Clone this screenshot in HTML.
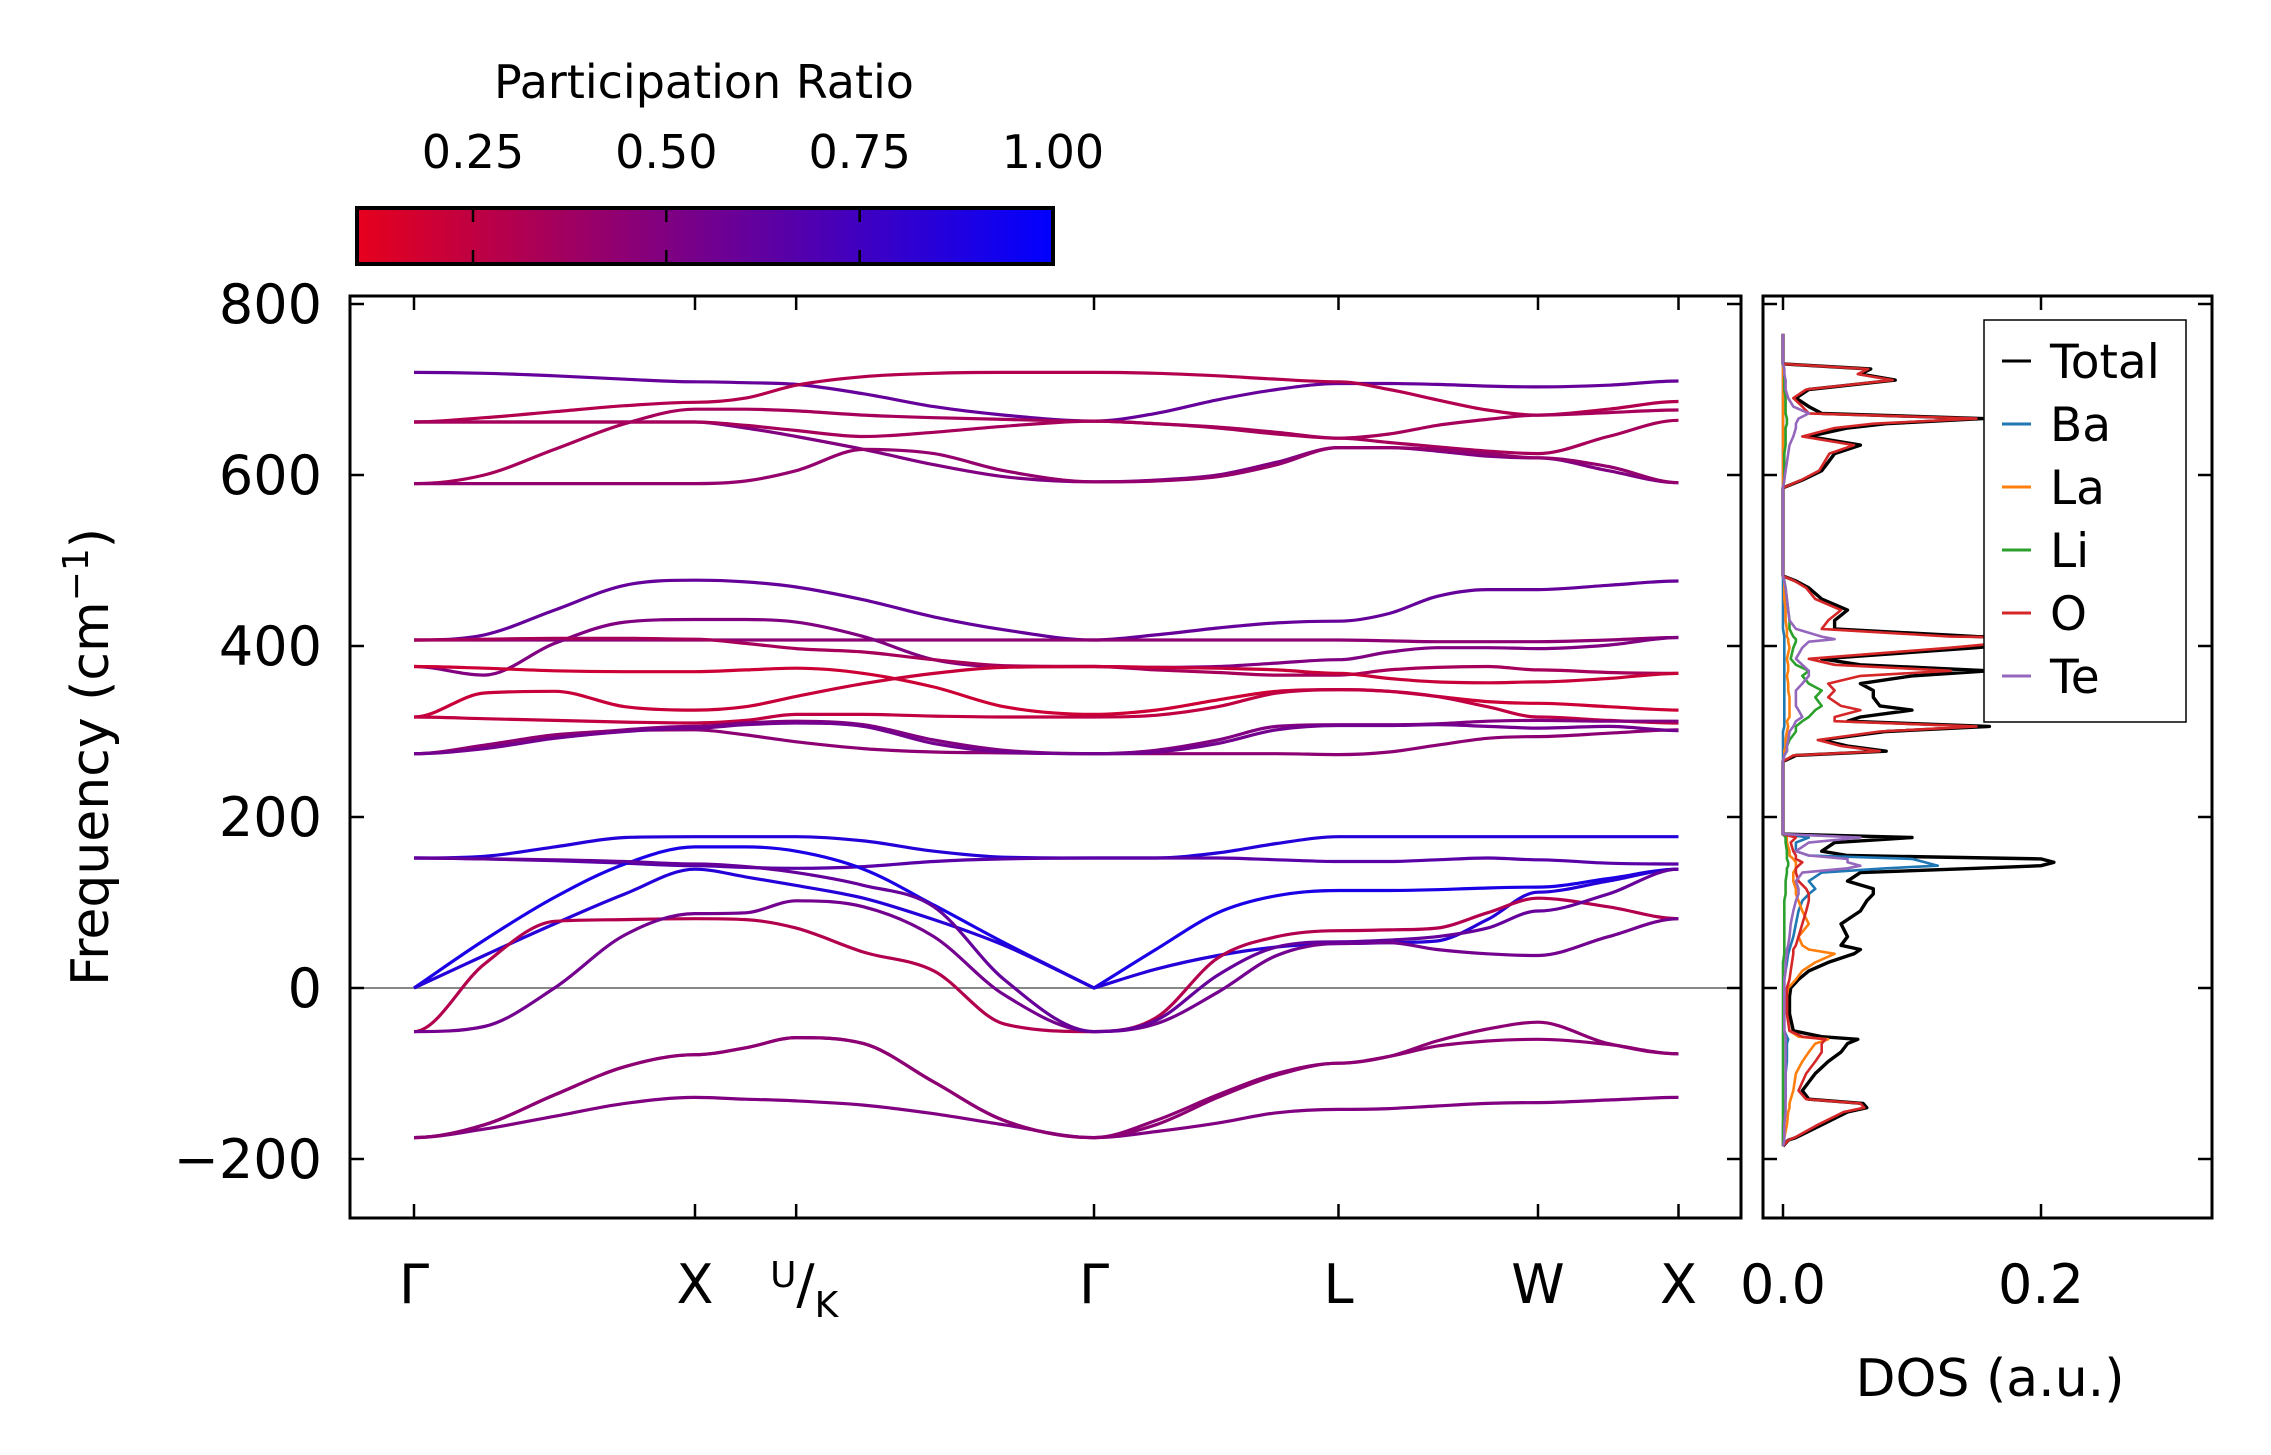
<!DOCTYPE html>
<html><head><meta charset="utf-8">
<style>
html,body{margin:0;padding:0;background:#fff;}
svg{display:block;font-family:"DejaVu Sans","Liberation Sans",sans-serif;}
</style></head>
<body>
<svg id="fig" width="2271" height="1455" viewBox="0 0 2271 1455" xmlns="http://www.w3.org/2000/svg">
<defs>
<linearGradient id="cmap" x1="0" x2="1" y1="0" y2="0">
<stop offset="0" stop-color="rgb(230,0,28)"/>
<stop offset="1" stop-color="rgb(0,0,255)"/>
</linearGradient>
<clipPath id="mainclip"><rect x="350" y="296" width="1391" height="922"/></clipPath>
<clipPath id="dosclip"><rect x="1763" y="296" width="449" height="922"/></clipPath>
</defs>
<g id="colorbar">
<text x="704" y="98" font-size="46" text-anchor="middle">Participation Ratio</text>
<rect x="357" y="208" width="696" height="56" fill="url(#cmap)" stroke="#000" stroke-width="4"/>
<g id="cbticks"></g>
</g>
<g id="main">
<line x1="350" x2="1741" y1="988" y2="988" stroke="#888" stroke-width="2"/>
<g id="bands" clip-path="url(#mainclip)"></g>
<rect x="350" y="296" width="1391" height="922" fill="none" stroke="#000" stroke-width="3"/>
<g id="mainticks"></g>
<text transform="translate(108,757) rotate(-90)" font-size="52" text-anchor="middle">Frequency (cm<tspan dy="-20" font-size="36">−1</tspan><tspan dy="20">)</tspan></text>
</g>
<g id="dos">
<g id="dosLines" clip-path="url(#dosclip)"></g>
<rect x="1763" y="296" width="449" height="922" fill="none" stroke="#000" stroke-width="3"/>
<g id="dosticks"></g>
<text x="1990" y="1396" font-size="52" text-anchor="middle">DOS (a.u.)</text>
<g id="legend">
<rect x="1984" y="320" width="202" height="402" fill="#fff" stroke="#000" stroke-width="1.5"/>
</g>
</g>
</svg>
<script>
// ---- band structure data ----
const kLabels = ["Γ","X","U/K","Γ","L","W","X"];
const kLabelPos = [0,1,1.36,2.42,3.29,4.0,4.5];
const kGrid = [0,0.25,0.5,0.75,1,1.18,1.36,1.6,1.85,2.1,2.42,2.64,2.86,3.07,3.29,3.47,3.64,3.82,4.0,4.25,4.5];
const yTicks = [800,600,400,200,0,-200];
const yTickLabels = ["800","600","400","200","0","−200"];
const cbTicks = [0.25,0.5,0.75,1.0];
const cbTickLabels = ["0.25","0.50","0.75","1.00"];
const T1 = [720,719,716,712,709,708,706,695,680,670,663,672,688,700,707,707,706,704,703,705,710];
const T2 = [662,667,674,681,685,690,705,715,719,720,720,719,716,712,709,700,688,676,670,677,686];
const T3 = [590,600,630,660,677,677,675,670,667,665,663,660,655,648,643,648,658,665,670,673,676];
const T4 = [662,662,662,662,662,655,645,630,612,598,592,594,600,615,632,632,628,622,620,605,591];
const T5 = [662,662,662,662,662,658,652,645,650,657,663,660,656,650,643,638,633,628,625,645,664];
const T6 = [590,590,590,590,590,593,605,630,625,605,592,593,598,612,632,632,630,625,620,610,591];
const M1 = [407,413,442,471,477,475,469,454,434,419,407,413,421,427,429,438,458,466,466,471,476];
const M2 = [407,407,407,407,407,407,407,407,407,407,407,407,407,407,407,406,405,405,405,407,410];
const M3 = [376,366,403,428,431,431,428,411,384,376,376,375,376,380,384,393,398,398,397,401,410];
const M4 = [407,408,409,409,408,403,397,393,384,377,376,372,369,366,366,372,375,376,372,369,368];
const M5 = [376,374,371,370,370,372,374,368,352,329,320,325,337,347,349,347,341,335,333,329,325];
const M6 = [317,345,347,329,325,329,341,356,368,375,376,375,374,372,368,362,358,357,358,362,368];
const M7 = [317,315,313,311,310,313,320,320,318,317,317,319,329,345,349,347,341,329,317,313,310];
const M8 = [274,282,294,302,306,310,312,308,290,278,274,278,290,306,308,308,309,312,313,312,312];
const M9 = [274,284,296,301,302,296,288,280,276,275,274,274,274,274,273,276,284,292,294,298,302];
const M10 = [274,280,292,300,304,308,310,306,286,276,274,276,286,302,307,307,308,306,304,306,301];
const B1 = [152,154,165,176,177,177,177,172,160,153,152,152,158,169,177,177,177,177,177,177,177];
const B2 = [152,151,149,146,143,141,140,142,148,151,152,152,152,150,148,148,150,152,150,146,145];
const B3 = [0,56,106,145,165,165,160,139,97,53,0,45,88,108,114,114,115,117,118,128,139];
const B4 = [0,38,75,110,139,130,120,105,80,50,0,22,38,48,52,53,55,80,112,125,139];
const B5 = [-51,28,78,80,81,80,70,42,20,-42,-51,-35,35,60,67,68,70,88,105,95,81];
const B6 = [-51,-45,0,62,87,88,102,95,60,-8,-51,-42,-5,38,52,53,45,40,38,60,81];
const B7 = [152,151,150,148,145,142,135,120,95,10,-51,-38,15,48,54,56,60,70,90,110,139];
const N1 = [-175,-160,-125,-92,-78,-70,-58,-65,-110,-155,-175,-155,-125,-100,-88,-80,-62,-48,-40,-65,-77];
const N2 = [-175,-165,-150,-135,-128,-130,-132,-137,-147,-160,-175,-168,-158,-146,-142,-141,-138,-135,-134,-131,-128];
const N3 = [-175,-160,-125,-92,-78,-70,-58,-65,-110,-155,-175,-160,-128,-102,-88,-80,-68,-62,-60,-66,-77];
const bandList = [T1,T2,T3,T4,T5,T6,M1,M2,M3,M4,M5,M6,M7,M8,M9,M10,B1,B2,B3,B4,B5,B6,B7,N1,N2,N3];
const bandRatio = [0.6,0.3,0.35,0.5,0.35,0.42,0.6,0.45,0.5,0.35,0.2,0.22,0.25,0.5,0.45,0.55,0.85,0.65,0.9,0.85,0.3,0.55,0.6,0.45,0.5,0.45];

// ---- DOS data ----
const dosFreq = [-185,-178,-175,-160,-145,-140,-135,-130,-120,-100,-86,-75,-65,-60,-57,-50,-30,-10,0,10,20,30,40,45,50,60,75,90,102,110,116,125,135,140,143,147,151,155,160,170,176,180,265,272,277,283,290,300,306,312,317,325,330,340,348,356,365,371,378,385,398,405,408,411,420,430,442,455,468,476,482,585,594,605,615,625,635,645,655,660,666,672,680,690,700,711,718,724,730,765];
const dosTotal = [0,0.004,0.01,0.03,0.05,0.065,0.062,0.02,0.015,0.025,0.035,0.045,0.05,0.058,0.03,0.008,0.005,0.005,0.006,0.012,0.02,0.035,0.055,0.06,0.045,0.05,0.045,0.06,0.065,0.07,0.07,0.05,0.06,0.15,0.2,0.21,0.2,0.05,0.03,0.04,0.1,0,0,0.01,0.08,0.05,0.03,0.08,0.16,0.05,0.06,0.1,0.075,0.07,0.07,0.06,0.1,0.16,0.06,0.03,0.15,0.2,0.31,0.15,0.04,0.04,0.05,0.03,0.02,0.01,0,0,0.015,0.03,0.035,0.04,0.06,0.02,0.05,0.08,0.155,0.03,0.02,0.01,0.02,0.087,0.06,0.068,0,0];
const dosO = [0,0.004,0.009,0.027,0.047,0.063,0.06,0.018,0.012,0.018,0.025,0.03,0.03,0.033,0.015,0.005,0.003,0.003,0.003,0.005,0.006,0.007,0.008,0.008,0.01,0.012,0.015,0.018,0.02,0.02,0.018,0.012,0.01,0.01,0.012,0.015,0.01,0.01,0.008,0.006,0.01,0,0,0.008,0.075,0.045,0.027,0.075,0.15,0.04,0.04,0.06,0.045,0.035,0.04,0.035,0.06,0.13,0.04,0.02,0.13,0.18,0.28,0.13,0.03,0.035,0.045,0.025,0.018,0.009,0,0,0.014,0.028,0.032,0.036,0.055,0.015,0.04,0.07,0.15,0.02,0.015,0.008,0.018,0.085,0.058,0.066,0,0];
const dosLa = [0,0,0.001,0.003,0.004,0.005,0.005,0.006,0.008,0.01,0.015,0.02,0.025,0.035,0.012,0.005,0.003,0.003,0.004,0.01,0.015,0.025,0.04,0.02,0.015,0.012,0.02,0.015,0.012,0.01,0.01,0.008,0.008,0.01,0.01,0.01,0.008,0.005,0.005,0.003,0.003,0,0,0.001,0.001,0.002,0.002,0.003,0.004,0.003,0.005,0.005,0.005,0.005,0.004,0.004,0.003,0.004,0.004,0.003,0.005,0.004,0.004,0.003,0.003,0.002,0.002,0.001,0.001,0.001,0,0,0,0,0,0,0,0,0,0,0,0,0,0,0,0,0,0,0,0];
const dosBa = [0,0,0,0,0.001,0.001,0.001,0.002,0.002,0.002,0.003,0.003,0.003,0.004,0.003,0.001,0.001,0.001,0.001,0.001,0.002,0.003,0.004,0.005,0.006,0.008,0.01,0.012,0.015,0.02,0.025,0.02,0.03,0.08,0.12,0.11,0.1,0.02,0.01,0.01,0.02,0,0,0,0,0,0,0,0.001,0.001,0.001,0.001,0.001,0.001,0.001,0.001,0.001,0.001,0.001,0.001,0.001,0.001,0.001,0.001,0,0,0,0,0,0,0,0,0,0,0,0,0,0,0,0,0,0,0,0,0,0,0,0,0,0];
const dosLi = [0,0,0,0,0,0,0,0,0,0,0,0,0,0,0,0,0,0,0,0,0,0,0.001,0.001,0.001,0.001,0.001,0.001,0.001,0.002,0.002,0.002,0.003,0.003,0.004,0.004,0.003,0.003,0.003,0.002,0.002,0,0,0.001,0.003,0.003,0.005,0.01,0.01,0.015,0.02,0.025,0.03,0.025,0.03,0.02,0.015,0.02,0.01,0.006,0.008,0.01,0.01,0.008,0.005,0.005,0.004,0.003,0.002,0.001,0,0,0.001,0.001,0.001,0.001,0.002,0.002,0.002,0.003,0.003,0.002,0.002,0.002,0.001,0.001,0.001,0.001,0,0];
const dosTe = [0,0.001,0.001,0.001,0.002,0.002,0.002,0.002,0.002,0.002,0.002,0.002,0.002,0.002,0.002,0.001,0.001,0.001,0.001,0.001,0.002,0.002,0.003,0.003,0.004,0.005,0.006,0.008,0.01,0.012,0.012,0.01,0.015,0.05,0.06,0.05,0.05,0.02,0.01,0.02,0.06,0,0,0.001,0.003,0.003,0.004,0.005,0.008,0.01,0.015,0.012,0.01,0.01,0.01,0.015,0.02,0.02,0.015,0.01,0.015,0.02,0.04,0.03,0.01,0.005,0.004,0.003,0.002,0.001,0,0,0.001,0.002,0.003,0.004,0.005,0.008,0.01,0.01,0.012,0.02,0.008,0.004,0.002,0.002,0.001,0.001,0,0];
const dosNames = ["Total","Ba","La","Li","O","Te"];
const dosSeries = [dosTotal,dosBa,dosLa,dosLi,dosO,dosTe];
const dosColors = ["#000000","#1f77b4","#ff7f0e","#2ca02c","#d62728","#9467bd"];

// ---- scales ----
const NS = "http://www.w3.org/2000/svg";
const kx = k => 414 + 281 * k;
const fy = f => 988 - 0.855 * f;
const dx = v => 1783 + v * 1290;
const cbx = v => 357 + (v - 0.1) / 0.9 * 696;
function mk(tag, attrs, parent){ const e=document.createElementNS(NS,tag); for(const a in attrs) e.setAttribute(a,attrs[a]); parent.appendChild(e); return e; }
function cmap(r){ const t=Math.max(0,Math.min(1,(r-0.1)/0.9)); return `rgb(${Math.round(230*(1-t))},0,${Math.round(28+227*t)})`; }
const splitK = [0,1,2.42,3.29,4.0,4.5];
function isSplit(k){ return splitK.some(s=>Math.abs(s-k)<1e-6); }
function bandPath(vals){
  const pts = vals.map((f,j)=>[kx(kGrid[j]), fy(f), kGrid[j], f]);
  const n = pts.length;
  const sec = [];
  for(let i=0;i<n-1;i++) sec.push((pts[i+1][1]-pts[i][1])/(pts[i+1][0]-pts[i][0]));
  const mL=[], mR=[];
  for(let i=0;i<n;i++){
    const split = isSplit(pts[i][2]);
    if(split){
      if(Math.abs(pts[i][3])<1e-9){ mL[i]= i>0?sec[i-1]:0; mR[i]= i<n-1?sec[i]:0; }
      else { mL[i]=0; mR[i]=0; }
    } else {
      const d0=sec[i-1], d1=sec[i];
      let m = (d0*d1<=0)?0:(d0+d1)/2;
      const lim = 3*Math.min(Math.abs(d0),Math.abs(d1));
      if(Math.abs(m)>lim) m = Math.sign(m)*lim;
      mL[i]=m; mR[i]=m;
    }
  }
  let d = `M${pts[0][0].toFixed(1)},${pts[0][1].toFixed(1)}`;
  for(let i=0;i<n-1;i++){
    const h = pts[i+1][0]-pts[i][0];
    const c1=[pts[i][0]+h/3, pts[i][1]+mR[i]*h/3];
    const c2=[pts[i+1][0]-h/3, pts[i+1][1]-mL[i+1]*h/3];
    d+=` C${c1[0].toFixed(1)},${c1[1].toFixed(1)} ${c2[0].toFixed(1)},${c2[1].toFixed(1)} ${pts[i+1][0].toFixed(1)},${pts[i+1][1].toFixed(1)}`;
  }
  return d;
}

// bands
const gB = document.getElementById('bands');
bandList.forEach((b,i)=>{
  const p = mk('path',{d:bandPath(b),fill:'none',stroke:cmap(bandRatio[i]),'stroke-width':3.2},gB);
  
  
});

// main ticks
const gT = document.getElementById('mainticks');
yTicks.forEach((v,i)=>{
  const y=fy(v);
  const l1=mk('line',{x1:350,x2:364,y1:y,y2:y,stroke:'#000','stroke-width':2.5},gT);
  
  
  const l2=mk('line',{x1:1727,x2:1741,y1:y,y2:y,stroke:'#000','stroke-width':2.5},gT);
  
  
  const t=mk('text',{x:322,y:y+19,'font-size':54,'text-anchor':'end'},gT);
  t.textContent=yTickLabels[i];
  
  
});
kLabelPos.forEach((k,i)=>{
  const x=kx(k);
  const l1=mk('line',{x1:x,x2:x,y1:1204,y2:1218,stroke:'#000','stroke-width':2.5},gT);
  
  
  const l2=mk('line',{x1:x,x2:x,y1:296,y2:310,stroke:'#000','stroke-width':2.5},gT);
  
  
  const t=mk('text',{x:x,y:1303,'font-size':54,'text-anchor':'middle'},gT);
  if(kLabels[i]==="U/K"){
    t.innerHTML='<tspan font-size="36" dy="-16">U</tspan><tspan dy="16">/</tspan><tspan font-size="36" dy="14">K</tspan>';
    t.setAttribute('x',x+8);
  } else t.textContent=kLabels[i];
  
  
});

// colorbar ticks
const gC = document.getElementById('cbticks');
cbTicks.forEach((v,i)=>{
  const x=cbx(v);
  if(v<1){
    const a=mk('line',{x1:x,x2:x,y1:208,y2:222,stroke:'#000','stroke-width':2.5},gC);
    
    
    const b=mk('line',{x1:x,x2:x,y1:250,y2:264,stroke:'#000','stroke-width':2.5},gC);
    
    
  }
  const t=mk('text',{x:x,y:168,'font-size':46,'text-anchor':'middle'},gC);
  t.textContent=cbTickLabels[i];
  
  
});

// DOS lines
const gD = document.getElementById('dosLines');
[0,1,2,3,4,5].forEach(i=>{
  const pts=dosSeries[i].map((v,j)=>`${dx(v).toFixed(1)},${fy(dosFreq[j]).toFixed(1)}`).join(' ');
  const pl=mk('polyline',{points:pts,fill:'none',stroke:dosColors[i],'stroke-width':i===0?3.4:2.6,'stroke-linejoin':'round'},gD);
  
  
});

// DOS ticks
const gDT=document.getElementById('dosticks');
const dosXTicks=[0,0.2];
const dosXTickLabels=["0.0","0.2"];
dosXTicks.forEach((v,i)=>{
  const x=dx(v);
  const a=mk('line',{x1:x,x2:x,y1:1204,y2:1218,stroke:'#000','stroke-width':2.5},gDT);
  
  
  const b=mk('line',{x1:x,x2:x,y1:296,y2:310,stroke:'#000','stroke-width':2.5},gDT);
  
  
  const t=mk('text',{x:x,y:1303,'font-size':54,'text-anchor':'middle'},gDT);
  t.textContent=dosXTickLabels[i];
  
  
});
yTicks.forEach(v=>{
  const y=fy(v);
  const a=mk('line',{x1:1763,x2:1777,y1:y,y2:y,stroke:'#000','stroke-width':2.5},gDT);
  
  
  const b=mk('line',{x1:2198,x2:2212,y1:y,y2:y,stroke:'#000','stroke-width':2.5},gDT);
  
  
});

// legend
const gL=document.getElementById('legend');
dosNames.forEach((n,i)=>{
  const y=361+63*i;
  const l=mk('line',{x1:2002,x2:2031,y1:y,y2:y,stroke:dosColors[i],'stroke-width':3},gL);
  
  
  const t=mk('text',{x:2050,y:y+17,'font-size':47},gL);
  t.textContent=n;
  
  
});
</script>
</body></html>
